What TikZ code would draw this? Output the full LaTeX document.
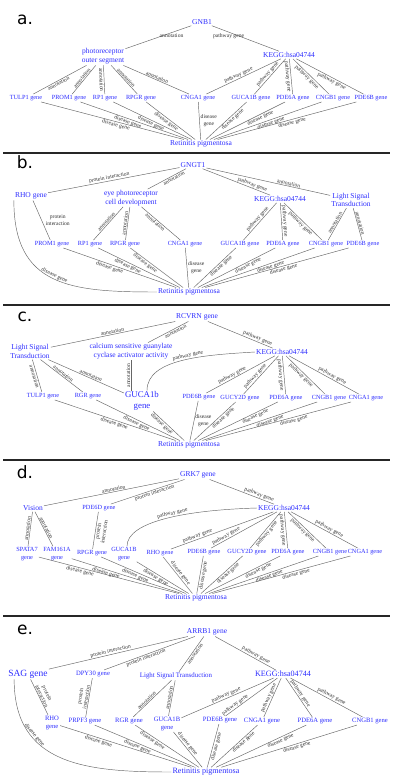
\documentclass[tikz,border=0pt]{standalone}
\usepackage{fontspec}
\setmainfont{Liberation Serif}
\setsansfont{DejaVu Sans}
\definecolor{nodeblue}{RGB}{45,45,255}
\tikzset{
  big/.style={text=nodeblue, font=\fontsize{7.5}{8.6}\selectfont, inner sep=1pt, align=center},
  bige/.style={text=nodeblue, font=\fontsize{8.1}{9}\selectfont, inner sep=1pt, align=center},
  midn/.style={text=nodeblue, font=\fontsize{6.9}{8}\selectfont, inner sep=1pt, align=center},
  huge/.style={text=nodeblue, font=\fontsize{9.5}{11}\selectfont, inner sep=1pt, align=center},
  bigger/.style={text=nodeblue, font=\fontsize{8.8}{10.5}\selectfont, inner sep=1pt, align=center},
  sm/.style={text=nodeblue, font=\fontsize{6.3}{7.6}\selectfont, inner sep=1pt, align=center},
  sme/.style={text=nodeblue, font=\fontsize{6.6}{8}\selectfont, inner sep=1pt, align=center},
  ln/.style={draw=black!60, line width=0.45pt},
  lab/.style={font=\fontsize{5.6}{6.1}\selectfont, text=black!80, inner sep=0.6pt, sloped, align=center},
  hlab/.style={font=\fontsize{5.6}{6.5}\selectfont, text=black!80, inner sep=1pt, align=center},
  sepline/.style={draw=black!85, line width=1.1pt},
  pl/.style={font=\fontsize{17}{17}\sffamily, inner sep=0pt}
}
\begin{document}
\begin{tikzpicture}[x=1pt,y=1pt]
\fill[white] (0,0) rectangle (400,-783);
\useasboundingbox (0,0) rectangle (400,-783);

% separators
\coordinate (s1a) at (3,-153); \coordinate (s1b) at (390,-153);
\coordinate (s2a) at (3,-305); \coordinate (s2b) at (390,-305);
\coordinate (s3a) at (3,-460); \coordinate (s3b) at (390,-460);
\coordinate (s4a) at (3,-616); \coordinate (s4b) at (390,-616);
\draw[sepline] (s1a) -- (s1b);
\draw[sepline] (s2a) -- (s2b);
\draw[sepline] (s3a) -- (s3b);
\draw[sepline] (s4a) -- (s4b);

% panel letters
\node[pl] (la) at (25,-20) {a.};
\node[pl] (lb) at (25,-162) {b.};
\node[pl] (lc) at (25,-317) {c.};
\node[pl] (ld) at (25,-472) {d.};
\node[pl] (le) at (25,-630) {e.};

%%%%%%%%%%%%%%%% panel a
\node[big] (agnb) at (202,-22) {GNB1};
\node[big] (aphot) at (103,-56.5) {photoreceptor\\outer segment};
\node[sm] (atulp) at (26,-98) {TULP1 gene};
\node[sm] (aprom) at (69,-98) {PROM1 gene};
\node[sm] (arp1) at (105,-98) {RP1 gene};
\node[sm] (arpgr) at (141,-98) {RPGR gene};
\node[sm] (acnga) at (198,-98) {CNGA1 gene};
\node[big] (arp) at (201,-144) {Retinitis pigmentosa};
\node[big] (akegg) at (289,-55) {KEGG:hsa04744};
\node[sm] (aguca) at (251,-98) {GUCA1B gene};
\node[sm] (apde6a) at (293,-98) {PDE6A gene};
\node[sm] (acngb) at (333,-98) {CNGB1 gene};
\node[sm] (apde6b) at (371,-98) {PDE6B gene};

\draw[ln] (agnb) -- node[hlab, pos=.3, below] {annotation} (aphot);
\draw[ln] (agnb) -- node[hlab, pos=.25, below] {pathway gene} (akegg);
\draw[ln] (aphot) -- node[lab, pos=.55, below] {annotation} (atulp);
\draw[ln] (aphot) -- node[lab, above] {annotation} (aprom);
\draw[ln] (aphot) -- node[lab, below] {annotation} (arp1);
\draw[ln] (aphot) -- node[lab, above] {annotation} (arpgr);
\draw[ln] (aphot) -- node[lab, above] {annotation} (acnga);
\draw[ln] (akegg) -- node[lab, pos=.55, above] {pathway gene} (acnga);
\draw[ln] (akegg) -- node[lab, above] {pathway gene} (aguca);
\draw[ln] (akegg) -- node[lab, below] {pathway gene} (apde6a);
\draw[ln] (akegg) -- node[lab, pos=.45, below] {pathway gene} (acngb);
\draw[ln] (akegg) -- node[lab, pos=.55, below] {pathway gene} (apde6b);
\draw[ln] (atulp) -- node[lab, pos=.53, below] {disease gene} (arp);
\draw[ln] (aprom) -- node[lab, pos=.45, below] {disease gene} (arp);
\draw[ln] (arp1) -- node[lab, pos=.5, below] {disease gene} (arp);
\draw[ln] (arpgr) -- node[lab, pos=.45, below] {disease gene} (arp);
\draw[ln] (acnga) -- node[hlab, right] {disease\\gene} (arp);
\draw[ln] (aguca) -- node[lab, pos=.4, below] {disease gene} (arp);
\draw[ln] (apde6a) -- node[lab, pos=.35, below] {disease gene} (arp);
\draw[ln] (acngb) -- node[lab, pos=.48, below] {disease gene} (arp);
\draw[ln] (apde6b) -- node[lab, pos=.47, below] {disease gene} (arp);

%%%%%%%%%%%%%%%% panel b
\node[big] (bgngt) at (193,-165) {GNGT1};
\node[big] (brho) at (31,-196) {RHO gene};
\node[big] (beye) at (131,-198) {eye photoreceptor\\cell development};
\node[sm] (bprom) at (52,-244) {PROM1 gene};
\node[sm] (brp1) at (90,-244) {RP1 gene};
\node[sm] (brpgr) at (125,-244) {RPGR gene};
\node[sm] (bcnga) at (185,-244) {CNGA1 gene};
\node[big] (brp) at (189,-292) {Retinitis pigmentosa};
\node[big] (bkegg) at (280,-199) {KEGG:hsa04744};
\node[big] (blst) at (351,-200) {Light Signal\\Transduction};
\node[sm] (bguca) at (240,-244) {GUCA1B gene};
\node[sm] (bpde6a) at (283,-244) {PDE6A gene};
\node[sm] (bcngb) at (326,-244) {CNGB1 gene};
\node[sm] (bpde6b) at (363,-244) {PDE6B gene};

\draw[ln] (bgngt) -- node[lab, pos=.53, above] {protein interaction} (brho);
\draw[ln] (bgngt) -- node[lab, pos=.35, below] {annotation} (beye);
\draw[ln] (bgngt) -- node[lab, pos=.72, above] {pathway gene} (bkegg);
\draw[ln] (bgngt) -- node[lab, pos=.66, above] {annotation} (blst);
\draw[ln] (brho) -- node[hlab, right=3pt] {protein\\interaction} (bprom);
\draw[ln] (brho.south west) to[out=-90,in=180,looseness=1.3] node[lab, pos=.5, above] {disease gene} (brp.west);
\draw[ln] (beye) -- node[lab, above] {annotation} (brp1);
\draw[ln] (beye) -- node[lab, above] {annotation} (brpgr);
\draw[ln] (beye) -- node[lab, pos=.4, below] {annotation} (bcnga);
\draw[ln] (bprom) -- node[lab, pos=.42, below] {disease gene} (brp);
\draw[ln] (brp1) -- node[lab, pos=.38, below] {disease gene} (brp);
\draw[ln] (brpgr) -- node[lab, pos=.32, below] {disease gene} (brp);
\draw[ln] (bcnga) -- node[hlab, right] {disease\\gene} (brp);
\draw[ln] (bkegg) -- node[lab, above] {pathway gene} (bguca);
\draw[ln] (bkegg) -- node[lab, above] {pathway gene} (bpde6a);
\draw[ln] (bkegg) -- node[lab, below] {pathway gene} (bcngb);
\draw[ln] (blst) -- node[lab, above] {annotation} (bcngb);
\draw[ln] (blst) -- node[lab, above] {annotation} (bpde6b);
\draw[ln] (bguca) -- node[lab, pos=.4, below] {disease gene} (brp);
\draw[ln] (bpde6a) -- node[lab, pos=.37, below] {disease gene} (brp);
\draw[ln] (bcngb) -- node[lab, pos=.4, below] {disease gene} (brp);
\draw[ln] (bpde6b) -- node[lab, pos=.46, below] {disease gene} (brp);

%%%%%%%%%%%%%%%% panel c
\node[big] (crcv) at (197,-317) {RCVRN gene};
\node[big] (clst) at (30,-351.5) {Light Signal\\Transduction};
\node[big] (ccalc) at (131,-351.5) {calcium sensitive guanylate\\cyclase activator activity};
\node[bigger] (cguca) at (142,-401) {GUCA1b\\gene};
\node[sm] (ctulp) at (43,-396) {TULP1 gene};
\node[sm] (crgr) at (88,-396) {RGR gene};
\node[sm] (cpde6b) at (199,-397) {PDE6B gene};
\node[sm] (cgucy) at (240,-398) {GUCY2D gene};
\node[sm] (cpde6a) at (286,-398) {PDE6A gene};
\node[sm] (ccngb) at (329,-398) {CNGB1 gene};
\node[sm] (ccnga) at (366,-398) {CNGA1 gene};
\node[big] (ckegg) at (282,-352) {KEGG:hsa04744};
\node[big] (crp) at (189,-445) {Retinitis pigmentosa};

\draw[ln] (crcv) -- node[lab, pos=.5, above] {annotation} (clst);
\draw[ln] (crcv) -- node[lab, pos=.35, below] {annotation} (ccalc);
\draw[ln] (crcv) -- node[lab, pos=.75, above] {pathway gene} (ckegg);
\draw[ln] (clst) -- node[lab, below] {annotation} (ctulp);
\draw[ln] (clst) -- node[lab, pos=.5, above] {annotation} (crgr);
\draw[ln] (clst) -- node[lab, pos=.55, above] {annotation} (cguca);
\draw[ln] (ccalc.south |- cguca.north) -- node[lab, above] {annotation} (ccalc.south);
\draw[ln] ([xshift=5pt]cguca.north) .. controls +(0,32) and +(-50,-3) .. node[lab, pos=.55, above] {pathway gene} (ckegg.west);
\draw[ln] (ckegg) -- node[lab, pos=.6, above] {pathway gene} (cpde6b);
\draw[ln] (ckegg) -- node[lab, pos=.6, above] {pathway gene} (cgucy);
\draw[ln] (ckegg) -- node[lab, below] {pathway gene} (cpde6a);
\draw[ln] (ckegg) -- node[lab, pos=.45, below] {pathway gene} (ccngb);
\draw[ln] (ckegg) -- node[lab, pos=.6, above] {pathway gene} (ccnga);
\draw[ln] (ctulp) -- node[lab, pos=.5, below] {disease gene} (crp);
\draw[ln] (crgr) -- node[lab, pos=.5, below] {disease gene} (crp);
\draw[ln] (cguca) -- node[lab, pos=.35, below] {disease gene} (crp);
\draw[ln] (cpde6b) -- node[hlab, right] {disease\\gene} (crp);
\draw[ln] (cgucy) -- node[lab, pos=.35, below] {disease gene} (crp);
\draw[ln] (cpde6a) -- node[lab, pos=.3, below] {disease gene} (crp);
\draw[ln] (ccngb) -- node[lab, pos=.42, below] {disease gene} (crp);
\draw[ln] (ccnga) -- node[lab, pos=.4, below] {disease gene} (crp);

%%%%%%%%%%%%%%%% panel d
\node[big] (dgrk) at (198,-475) {GRK7 gene};
\node[big] (dvis) at (33,-508) {Vision};
\node[sm] (dpde6d) at (99,-508) {PDE6D gene};
\node[big] (dkegg) at (284,-508) {KEGG:hsa04744};
\node[sm] (dspata) at (27,-554) {SPATA7\\gene};
\node[sm] (dfam) at (57,-554) {FAM161A\\gene};
\node[sm] (drpgr) at (92,-553) {RPGR gene};
\node[sm] (dguca) at (124,-554) {GUCA1B\\gene};
\node[sm] (drho) at (160,-553) {RHO gene};
\node[sm] (dpde6b) at (204,-552) {PDE6B gene};
\node[sm] (dgucy) at (247,-552) {GUCY2D gene};
\node[sm] (dpde6a) at (288,-552) {PDE6A gene};
\node[sm] (dcngb) at (330,-552) {CNGB1 gene};
\node[sm] (dcnga) at (365,-552) {CNGA1 gene};
\node[big] (drp) at (196,-598) {Retinitis pigmentosa};

\draw[ln] (dgrk) -- node[lab, pos=.48, above] {annotation} (dvis);
\draw[ln] (dgrk) -- node[lab, pos=.42, below] {protein interaction} (dpde6d);
\draw[ln] (dgrk) -- node[lab, pos=.75, above] {pathway gene} (dkegg);
\draw[ln] (dvis) -- node[lab, above] {annotation} (dspata);
\draw[ln] (dvis) -- node[lab, pos=.5, above] {annotation} (dfam);
\draw[ln] (dpde6d) -- node[lab, below] {protein\\interaction} (drpgr);
\draw[ln] ([xshift=3pt]dguca.north) .. controls +(0,25) and +(-70,-2) .. node[lab, pos=.55, above] {pathway gene} (dkegg.west);
\draw[ln] (dkegg) -- node[lab, pos=.73, above] {pathway gene} (drho);
\draw[ln] (dkegg) -- node[lab, pos=.75, above] {pathway gene} (dpde6b);
\draw[ln] (dkegg) -- node[lab, pos=.55, below] {pathway gene} (dgucy);
\draw[ln] (dkegg) -- node[lab, below] {pathway gene} (dpde6a);
\draw[ln] (dkegg) -- node[lab, pos=.45, below] {pathway gene} (dcngb);
\draw[ln] (dkegg) -- node[lab, pos=.55, above] {pathway gene} (dcnga);
\draw[ln] (dspata) -- node[lab, pos=.3, below] {disease gene} (drp);
\draw[ln] (dfam) -- node[lab, pos=.32, below] {disease gene} (drp);
\draw[ln] (drpgr) -- node[lab, pos=.42, below] {disease gene} (drp);
\draw[ln] (dguca) -- node[lab, pos=.4, below] {disease gene} (drp);
\draw[ln] (drho) -- node[lab, pos=.5, above] {disease gene} (drp);
\draw[ln] (dpde6b) -- node[lab, below] {disease gene} (drp);
\draw[ln] (dgucy) -- node[lab, pos=.4, below] {disease gene} (drp);
\draw[ln] (dpde6a) -- node[lab, pos=.31, below] {disease gene} (drp);
\draw[ln] (dcngb) -- node[lab, pos=.46, below] {disease gene} (drp);
\draw[ln] (dcnga) -- node[lab, pos=.4, below] {disease gene} (drp);

%%%%%%%%%%%%%%%% panel e
\node[big] (earrb) at (207,-632) {ARRB1 gene};
\node[huge] (esag) at (28,-674) {SAG gene};
\node[sme] (edpy) at (93,-674) {DPY30 gene};
\node[midn] (elst) at (176,-676) {Light Signal Transduction};
\node[bige] (ekegg) at (283,-674) {KEGG:hsa04744};
\node[sme] (erho) at (52,-723) {RHO\\gene};
\node[sme] (eprpf) at (85,-721) {PRPF3 gene};
\node[sme] (ergr) at (129,-721) {RGR gene};
\node[sme] (eguca) at (167,-724) {GUCA1B\\gene};
\node[sme] (epde6b) at (220,-720) {PDE6B gene};
\node[sme] (ecnga) at (262,-721) {CNGA1 gene};
\node[sme] (epde6a) at (315,-721) {PDE6A gene};
\node[sme] (ecngb) at (370,-721) {CNGB1 gene};
\node[bige] (erp) at (206,-772) {Retinitis pigmentosa};

\draw[ln] (earrb) -- node[lab, pos=.55, above] {protein interaction} (esag);
\draw[ln] (earrb) -- node[lab, pos=.55, below] {protein interaction} (edpy);
\draw[ln] (earrb) -- node[lab, pos=.45, below] {annotation} (elst);
\draw[ln] (earrb) -- node[lab, pos=.65, above] {pathway gene} (ekegg);
\draw[ln] (esag) -- node[lab, above] {protein\\interaction} (erho);
\draw[ln] ([xshift=7pt]esag.south west) to[out=-90,in=180,looseness=1.2] node[lab, pos=.3, above] {disease gene} (erp.west);
\draw[ln] (edpy) -- node[lab, above] {protein\\interaction} (eprpf);
\draw[ln] (elst) -- node[lab, pos=.6, above] {annotation} (ergr);
\draw[ln] (elst) -- node[lab, above] {annotation} (eguca);
\draw[ln] (ekegg) -- node[lab, pos=.5, above] {pathway gene} (eguca);
\draw[ln] (ekegg) -- node[lab, pos=.78, above] {pathway gene} (epde6b);
\draw[ln] (ekegg) -- node[lab, pos=.55, above] {pathway gene} (ecnga);
\draw[ln] (ekegg) -- node[lab, pos=.45, above] {pathway gene} (epde6a);
\draw[ln] (ekegg) -- node[lab, pos=.55, above] {pathway gene} (ecngb);
\draw[ln] (erho) -- node[lab, pos=.3, below] {disease gene} (erp);
\draw[ln] (eprpf) -- node[lab, pos=.44, below] {disease gene} (erp);
\draw[ln] (ergr) -- node[lab, pos=.3, below] {disease gene} (erp);
\draw[ln] (eguca) -- node[lab, pos=.4, above] {disease gene} (erp);
\draw[ln] (epde6b) -- node[lab, below] {disease gene} (erp);
\draw[ln] (ecnga) -- node[lab, pos=.35, below] {disease gene} (erp);
\draw[ln] (epde6a) -- node[lab, pos=.3, below] {disease gene} (erp);
\draw[ln] (ecngb) -- node[lab, pos=.45, below] {disease gene} (erp);
\end{tikzpicture}
\end{document}
